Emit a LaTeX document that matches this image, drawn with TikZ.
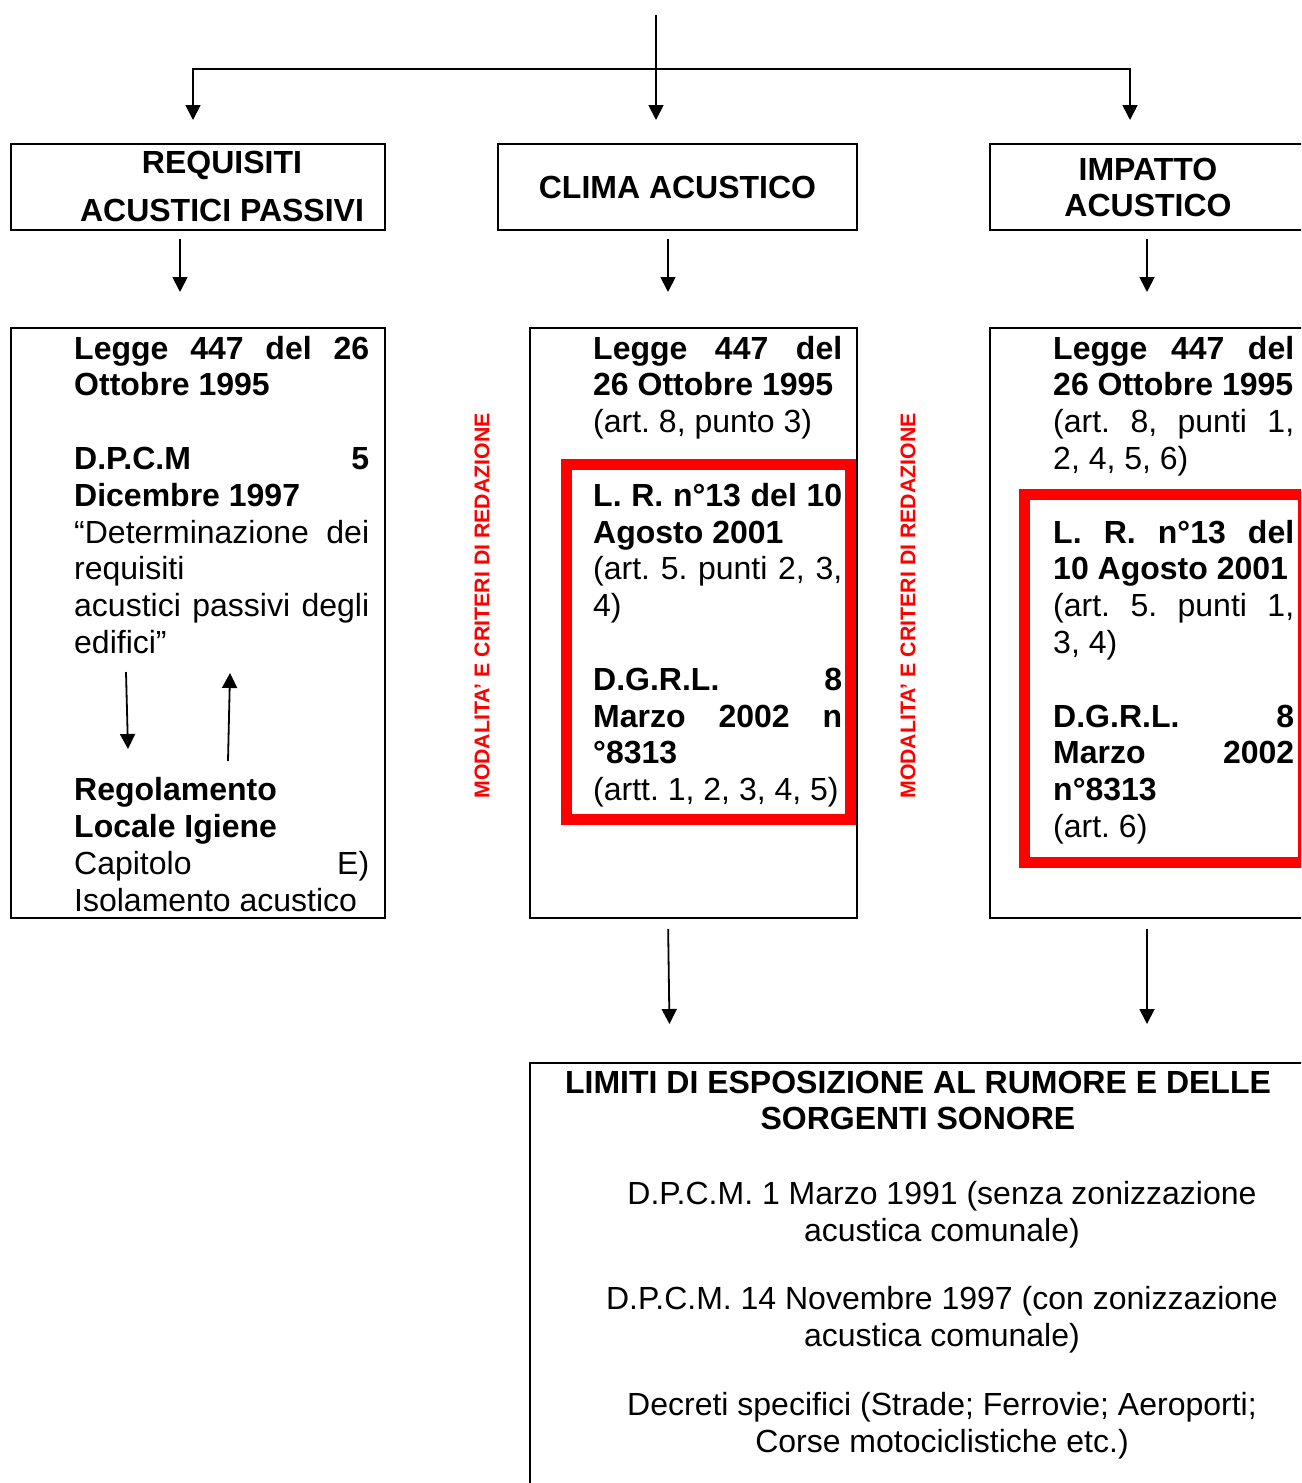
\documentclass[tikz,border=0pt]{standalone}
\usepackage{fontspec}
\setmainfont{Liberation Sans}
\usetikzlibrary{arrows.meta,positioning}
\frenchspacing
\newcommand{\jl}[1]{{\spaceskip=0pt \xspaceskip=0pt \makebox[\hsize][s]{#1}}}

\begin{document}
\begin{tikzpicture}[x=1pt, y=-1pt, >={Triangle[length=15pt,width=15pt]},
    box/.style={draw, line width=2pt, inner sep=0pt},
    txt/.style={inner sep=0pt, font=\fontsize{32}{36.8}\selectfont},
    law/.style={txt, anchor=base west, align=flush left},
    head/.style={inner sep=0pt, anchor=base, align=flush center, text width=360pt, font=\bfseries\fontsize{32}{36}\selectfont},
    conn/.style={->, line width=1.8pt},
    redframe/.style={draw=red, line width=11pt},
    tag/.style={text=red, inner sep=0pt, rotate=90, font=\bfseries\fontsize{21.3}{24}\selectfont}]
    \useasboundingbox (0,0) rectangle (1301,1483);
    \clip (0,0) rectangle (1301,1483);
    % Headings
    \node[box, minimum width=374pt, minimum height=86pt] (req) at (198,187) {};
    \node[head] (reqname) at (222,173.5) {REQUISITI\\[12pt]ACUSTICI PASSIVI};
    \node[box, minimum width=359pt, minimum height=86pt, font=\bfseries\fontsize{32}{36}\selectfont] (clima) at (677.5,187) {CLIMA ACUSTICO};
    \node[box, minimum width=316pt, minimum height=86pt] (imp) at (1148,187) {};
    \node[head] (impname) at (1148,180.5) {IMPATTO\\ACUSTICO};
    % Law boxes
    \node[box, minimum width=374pt, minimum height=590pt] (reqlaw) at (198,623) {};
    \node[box, minimum width=327pt, minimum height=590pt] (climalaw) at (693.5,623) {};
    \node[box, minimum width=316pt, minimum height=590pt] (implaw) at (1148,623) {};
    \draw[redframe] (566,464.5) rectangle (850.5,819.5);
    \draw[redframe] (1024.5,494) rectangle (1303.5,862);
    \node[law, text width=295pt] (reqtxt) at (74,359) {%
        \jl{\textbf{Legge 447 del 26}}\\
        \textbf{Ottobre 1995}\\[36.8pt]
        \jl{\textbf{D.P.C.M 5}}\\
        \textbf{Dicembre 1997}\\
        \jl{“Determinazione dei}\\
        requisiti\\
        \jl{acustici passivi degli}\\
        edifici”\\[110.4pt]
        \textbf{Regolamento}\\
        \textbf{Locale Igiene}\\
        \jl{Capitolo E)}\\
        Isolamento acustico};
    \node[law, text width=249pt] (climatxt) at (593,359) {%
        \jl{\textbf{Legge 447 del}}\\
        \textbf{26 Ottobre 1995}\\
        (art. 8, punto 3)\\[36.8pt]
        \jl{\textbf{L. R. n°13 del 10}}\\
        \textbf{Agosto 2001}\\
        \jl{(art. 5. punti 2, 3,}\\
        4)\\[36.8pt]
        \jl{\textbf{D.G.R.L. 8}}\\
        \jl{\textbf{Marzo 2002 n}}\\
        \textbf{°8313}\\
        (artt. 1, 2, 3, 4, 5)};
    \node[law, text width=241pt] (imptxt) at (1053,359) {%
        \jl{\textbf{Legge 447 del}}\\
        \textbf{26 Ottobre 1995}\\
        \jl{(art. 8, punti 1,}\\
        2, 4, 5, 6)\\[36.8pt]
        \jl{\textbf{L. R. n°13 del}}\\
        \textbf{10 Agosto 2001}\\
        \jl{(art. 5. punti 1,}\\
        3, 4)\\[36.8pt]
        \jl{\textbf{D.G.R.L. 8}}\\
        \jl{\textbf{Marzo 2002}}\\
        \textbf{n°8313}\\
        (art. 6)};
    \node[tag] (mod1) at (482,606) {MODALITA’ E CRITERI DI REDAZIONE};
    \node[tag] (mod2) at (908,606) {MODALITA’ E CRITERI DI REDAZIONE};
    % Limits
    \node[box, minimum width=776pt, minimum height=437pt] (lim) at (918,1281.5) {};
    \node[head, text width=760pt] (limname) at (918,1093.5) {LIMITI DI ESPOSIZIONE AL RUMORE E DELLE\\SORGENTI SONORE};
    \node[txt, anchor=base, align=flush center, text width=760pt] (dpcm1) at (942,1204.5) {D.P.C.M. 1 Marzo 1991 (senza zonizzazione\\acustica comunale)};
    \node[txt, anchor=base, align=flush center, text width=760pt] (dpcm2) at (942,1309.5) {D.P.C.M. 14 Novembre 1997 (con zonizzazione\\acustica comunale)};
    \node[txt, anchor=base, align=flush center, text width=760pt] (decr) at (942,1415.5) {Decreti specifici (Strade; Ferrovie; Aeroporti;\\Corse motociclistiche etc.)};
    % Arrows
    \coordinate (src) at (656,15);
    \coordinate (hub) at (656,69);
    \draw[conn, shorten >=23pt] (src) -- (src |- clima.north);
    \draw[conn, shorten >=23pt] (hub) -| ([xshift=-5pt]req.north);
    \draw[conn, shorten >=23pt] (hub) -| ([xshift=-18pt]imp.north);
    \draw[conn, shorten <=8pt, shorten >=35pt] ([xshift=-18pt]req.south) -- ([xshift=-18pt]reqlaw.north);
    \draw[conn, shorten <=8pt, shorten >=35pt] ([xshift=-9.5pt]clima.south) -- ([xshift=-25.5pt]climalaw.north);
    \draw[conn, shorten <=8pt, shorten >=35pt] ([xshift=-1pt]imp.south) -- ([xshift=-1pt]implaw.north);
    \draw[conn, shorten <=10pt, shorten >=38pt] ([xshift=-25.5pt]climalaw.south) -- ([xshift=-248pt]lim.north);
    \draw[conn, shorten <=10pt, shorten >=38pt] ([xshift=-1pt]implaw.south) -- ([xshift=229pt]lim.north);
    % Inner arrows
    \coordinate (dn1) at (126,672);
    \coordinate (dn2) at (128,749);
    \coordinate (up1) at (228,761);
    \coordinate (up2) at (230,673);
    \draw[conn] (dn1) -- (dn2);
    \draw[conn] (up1) -- (up2);
\end{tikzpicture}
\end{document}
